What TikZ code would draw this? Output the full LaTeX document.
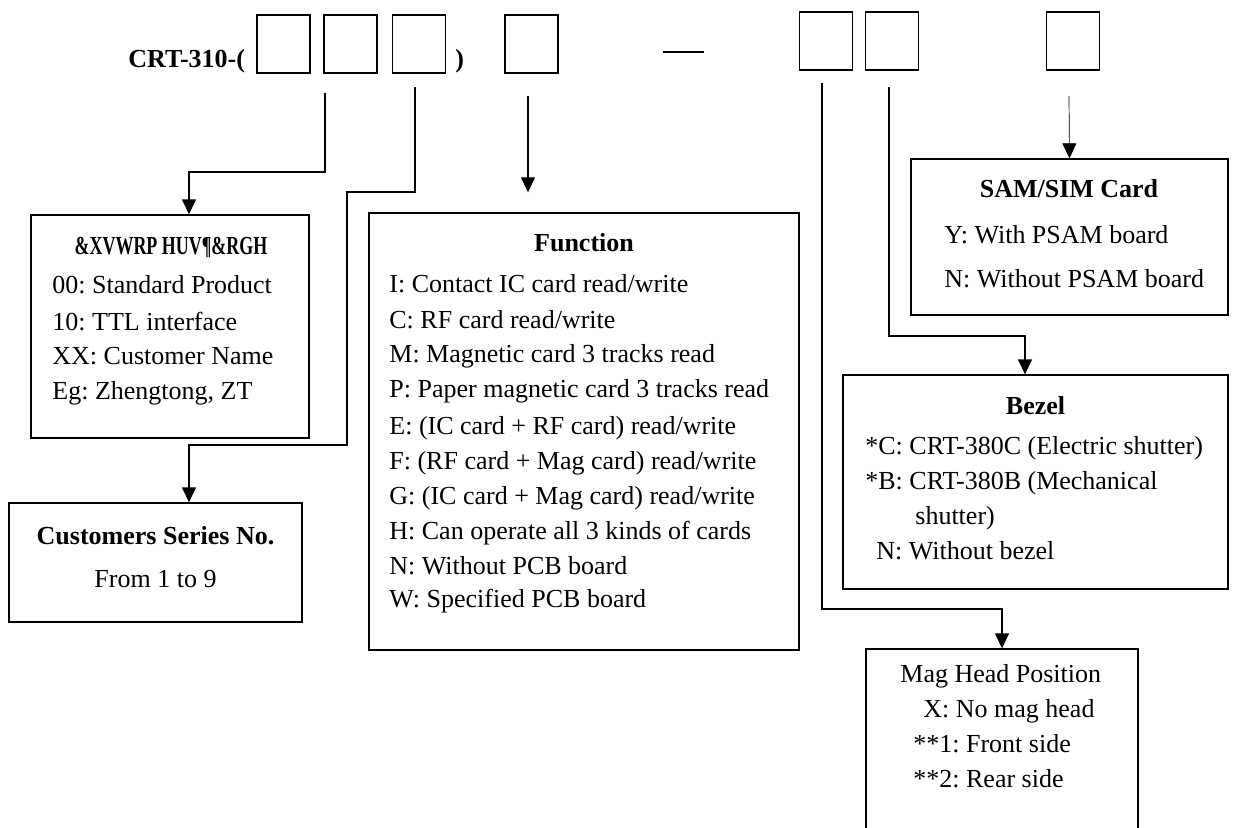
\documentclass[tikz,border=0pt]{standalone}
\usepackage{fontspec}
\setmainfont{Liberation Serif}
\usepackage{graphicx}
\usetikzlibrary{arrows.meta}
\frenchspacing
\begin{document}
\begin{tikzpicture}[x=0.5pt,y=-0.5pt,
  box/.style={draw, line width=0.7pt, inner sep=0pt},
  slot/.style={box, minimum width=26.5pt, minimum height=29pt},
  conn/.style={line width=0.7pt},
  arr/.style={conn, -{Triangle[length=7.5pt,width=7pt]}},
  thinarr/.style={line width=0.35pt, -{Triangle[length=7.5pt,width=7pt]}},
  txt/.style={font=\fontsize{13pt}{15pt}\selectfont, inner sep=0pt, anchor=mid west},
  ctxt/.style={font=\fontsize{13pt}{15pt}\selectfont, inner sep=0pt, anchor=mid},
  ttl/.style={font=\fontsize{13pt}{15pt}\selectfont\bfseries, inner sep=0pt, anchor=mid},
]
\clip (0,0) rectangle (1233,827);
\fill[white] (0,0) rectangle (1233,827);

% top row
\node[font=\fontsize{13pt}{15pt}\selectfont\bfseries, inner sep=0pt, anchor=base west] (crt) at (128,67) {CRT-310-(};
\node[slot] (b1) at (283.5,44) {};
\node[slot] (b2) at (350.5,44) {};
\node[slot] (b3) at (419,44) {};
\node[font=\fontsize{13pt}{15pt}\selectfont\bfseries, inner sep=0pt, anchor=base west] (rp) at (455,67) {)};
\node[slot] (b4) at (531.5,44) {};
\coordinate (d1) at (663,52);
\coordinate (d2) at (704,52);
\draw[conn] (d1) -- (d2);
\node[slot] (b5) at (826,41) {};
\node[slot] (b6) at (892,41) {};
\node[slot] (b7) at (1073,41) {};

% boxes
\node[box, minimum width=139pt, minimum height=111.5pt] (cust) at (170,326.5) {};
\node[box, minimum width=146.5pt, minimum height=59.5pt] (series) at (155.5,562.5) {};
\node[box, minimum width=215pt, minimum height=218.5pt] (func) at (584,431.5) {};
\node[box, minimum width=158.5pt, minimum height=78pt] (sam) at (1069.5,237) {};
\node[box, minimum width=192.5pt, minimum height=107pt] (bezel) at (1035.5,482) {};
\node[box, minimum width=136pt, minimum height=95.5pt] (mag) at (1002,744.5) {};

% connectors
\coordinate (s2) at (325,93);
\coordinate (s3) at (415,87);
\coordinate (s4) at (528,96);
\coordinate (s5) at (822,83);
\coordinate (s6) at (889,87);
\coordinate (s7) at (1069,96);
\draw[arr] (s2) -- (325,172) -| ([xshift=9.5pt]cust.north);
\draw[arr] (s3) -- (415,192) -- (347,192) -- (347,445) -| ([xshift=16.75pt]series.north);
\draw[arr] (s4) -- ([xshift=-28pt,yshift=10pt]func.north);
\draw[arr] (s5) -- (822,609) -| (mag.north);
\draw[arr] (s6) -- (889,336) -| ([xshift=-5.25pt]bezel.north);
\draw[thinarr] (s7) -- (sam.north);

% customer code
\node[ttl] (custT) at (171,250) {\scalebox{0.69}[1]{\&XVWRP HUV¶\&RGH}};
\node[txt] (c1) at (52,289) {00: Standard Product};
\node[txt] (c2) at (52,326) {10: TTL interface};
\node[txt] (c3) at (52,360) {XX: Customer Name};
\node[txt] (c4) at (52,395) {Eg: Zhengtong, ZT};

% series
\node[ttl] (serT) at (155.5,540) {Customers Series No.};
\node[ctxt] (ser1) at (155.5,583) {From 1 to 9};

% function
\node[ttl] (funT) at (584,247) {Function};
\node[txt] (f1) at (389,288) {I: Contact IC card read/write};
\node[txt] (f2) at (389,324) {C: RF card read/write};
\node[txt] (f3) at (389,358) {M: Magnetic card 3 tracks read};
\node[txt] (f4) at (389,393) {P: Paper magnetic card 3 tracks read};
\node[txt] (f5) at (389,430) {E: (IC card + RF card) read/write};
\node[txt] (f6) at (389,465) {F: (RF card + Mag card) read/write};
\node[txt] (f7) at (389,500) {G: (IC card + Mag card) read/write};
\node[txt] (f8) at (389,535) {H: Can operate all 3 kinds of cards};
\node[txt] (f9) at (389,570) {N: Without PCB board};
\node[txt] (f10) at (389,603) {W: Specified PCB board};

% SAM
\node[ttl] (samT) at (1069,193) {SAM/SIM Card};
\node[txt] (sa1) at (944,239) {Y: With PSAM board};
\node[txt] (sa2) at (944,283) {N: Without PSAM board};

% bezel
\node[ttl] (bezT) at (1035.5,410) {Bezel};
\node[txt] (bz1) at (865,450) {*C: CRT-380C (Electric shutter)};
\node[txt] (bz2) at (865,485) {*B: CRT-380B (Mechanical};
\node[txt] (bz3) at (915,520) {shutter)};
\node[txt] (bz4) at (876,555) {N: Without bezel};

% mag head
\node[txt] (mgT) at (900,678) {Mag Head Position};
\node[txt] (mg1) at (923,713) {X: No mag head};
\node[txt] (mg2) at (913,748) {**1: Front side};
\node[txt] (mg3) at (913,783) {**2: Rear side};
\end{tikzpicture}
\end{document}
